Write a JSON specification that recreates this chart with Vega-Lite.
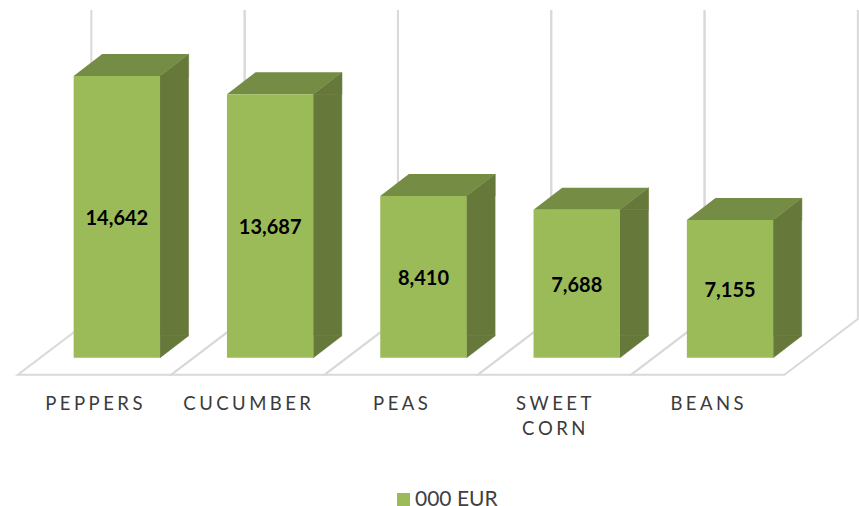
{
"$schema":"https://vega.github.io/schema/vega-lite/v6.json",
"width":859,"height":375,
"autosize":{"type":"none"},
"padding":{"left":0,"top":0,"right":0,"bottom":131},
"background":"white",
"config":{"view":{"stroke":null},"font":"Lato"},
"data":{"values":[
{"category":"PEPPERS","value":14642,"series":"000 EUR"},
{"category":"CUCUMBER","value":13687,"series":"000 EUR"},
{"category":"PEAS","value":8410,"series":"000 EUR"},
{"category":"SWEET CORN","value":7688,"series":"000 EUR"},
{"category":"BEANS","value":7155,"series":"000 EUR"}
]},
"encoding":{
"x":{"field":"category","type":"nominal","sort":null,"scale":{"type":"band","range":[40.2,806.7],"paddingInner":0,"paddingOuter":0},
"axis":{"title":null,"domain":false,"ticks":false,"grid":false,"labelAngle":0,"labelFont":"Lato","labelFontSize":18.5,"labelColor":"#3a3a3a","labelPadding":19,"labelOffset":-23,"labelLineHeight":25.5,"labelBaseline":"top","labelLimit":0,"labelExpr":"split(replace(datum.label, regexp('\\\\B','g'), '\\u2009\\u200a'), ' ')"}}
},
"layer":[
{"mark":{"type":"point","shape":"M-25.5,-347.7 L-25.5,-38.7 L-99,17 L54.4,17 L127.8,-38.7 L127.8,-347.7","size":4,"filled":false,"stroke":"#D9D9D9","strokeWidth":2,"opacity":1},
 "encoding":{"y":{"datum":0,"type":"quantitative","scale":{"domain":[0,14642],"range":[357.7,76]},"axis":null}}},
{"mark":{"type":"bar","size":28.6,"xOffset":57.3,"color":"#66783A","stroke":"#66783A","strokeWidth":0.6},
 "encoding":{"y":{"field":"value","type":"quantitative","scale":{"domain":[0,14642],"range":[357.7,76]},"axis":null},"y2":{"datum":1143.5}}},
{"mark":{"type":"point","shape":"M43.2,0 L71.8,0 L71.8,-22 Z","size":4,"filled":true,"color":"#66783A","stroke":"#66783A","strokeWidth":0.6,"opacity":1},
 "encoding":{"y":{"field":"value","type":"quantitative","scale":{"domain":[0,14642],"range":[357.7,76]},"axis":null}}},
{"mark":{"type":"point","shape":"M43.2,0 L43.2,-22 L71.8,-22 Z","size":4,"filled":true,"color":"#66783A","stroke":"#66783A","strokeWidth":0.6,"opacity":1},
 "encoding":{"y":{"datum":0,"type":"quantitative","scale":{"domain":[0,14642],"range":[357.7,76]},"axis":null}}},
{"mark":{"type":"point","shape":"M-43.2,0 L43.2,0 L71.8,-22 L-14.6,-22 Z","size":4,"filled":true,"color":"#758C45","opacity":1},
 "encoding":{"y":{"field":"value","type":"quantitative","scale":{"domain":[0,14642],"range":[357.7,76]},"axis":null}}},
{"mark":{"type":"bar","size":86.4},
 "encoding":{"y":{"field":"value","type":"quantitative","scale":{"domain":[0,14642],"range":[357.7,76]},"axis":null},
 "color":{"field":"series","type":"nominal","scale":{"range":["#9BBB59"]},"legend":{"title":null,"orient":"none","legendX":393,"legendY":489,"symbolType":"square","symbolSize":169,"symbolStrokeWidth":0,"labelFont":"Lato","labelFontSize":21,"labelColor":"#404040","labelOffset":1,"labelLimit":0,"padding":0}}}},
{"mark":{"type":"text","font":"Lato","fontWeight":"bold","fontSize":20,"color":"#000000","baseline":"middle","align":"center"},
 "encoding":{"y":{"field":"value","type":"quantitative","scale":{"domain":[0,14642],"range":[359.7,219]},"axis":null},"text":{"field":"value","type":"quantitative","format":",d"}}}
],
"resolve":{"scale":{"y":"independent"}}
}
